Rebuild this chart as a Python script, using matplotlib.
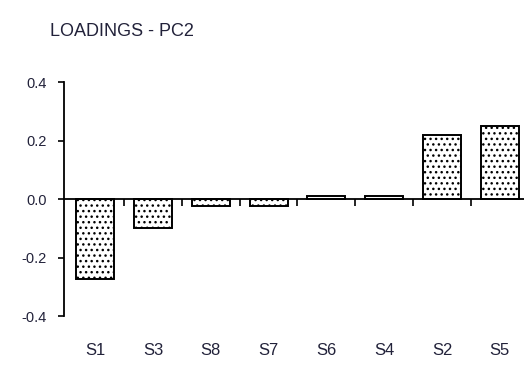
import matplotlib
matplotlib.use("Agg")
import matplotlib.pyplot as plt
import numpy as np

plt.rcParams['font.family'] = ['Liberation Sans', 'DejaVu Sans']
plt.rcParams['axes.unicode_minus'] = False
plt.rcParams['hatch.color'] = 'black'
plt.rcParams['hatch.linewidth'] = 1.0

names = ['S1', 'S3', 'S8', 'S7', 'S6', 'S4', 'S2', 'S5']
loadings = [-0.275, -0.10, -0.025, -0.025, 0.01, 0.01, 0.22, 0.25]
yticks = [-0.4, -0.2, 0.0, 0.2, 0.4]

text_color = '#22223a'

fig = plt.figure(figsize=(5.24, 3.65), dpi=100)
ax = fig.add_axes([0.1221, 0.1342, 0.8868, 0.6411])

x = np.arange(len(names))
ax.bar(x, loadings, width=0.66, color='white', edgecolor='black',
       linewidth=1.4, hatch='...', zorder=2)

ax.set_xlim(-0.54, len(names) - 0.5)
ax.set_ylim(-0.4, 0.4)

# x axis runs through zero, ticks sit between the categories
ax.spines['bottom'].set_position(('data', 0))
ax.spines['bottom'].set_linewidth(1.3)
ax.spines['bottom'].set_zorder(3)
ax.spines['left'].set_linewidth(1.3)
ax.spines['top'].set_visible(False)
ax.spines['right'].set_visible(False)
ax.set_xticks(x[:-1] + 0.5)
ax.set_xticklabels([])
ax.tick_params(axis='x', direction='out', length=5, width=1.2)

ax.set_yticks(yticks)
ax.set_yticklabels(['%.1f' % v for v in yticks])
ax.tick_params(axis='y', direction='out', length=4, width=1.2, pad=8.5,
               labelsize=10.5, labelcolor=text_color)

for i, name in enumerate(names):
    ax.text(i, -0.149, name, transform=ax.get_xaxis_transform(),
            ha='center', va='center', fontsize=12, color=text_color)

fig.text(50 / 524, 1 - 31 / 365, 'LOADINGS - PC2', ha='left', va='center',
         fontsize=13, color=text_color)

fig.savefig('out.png', dpi=100)
